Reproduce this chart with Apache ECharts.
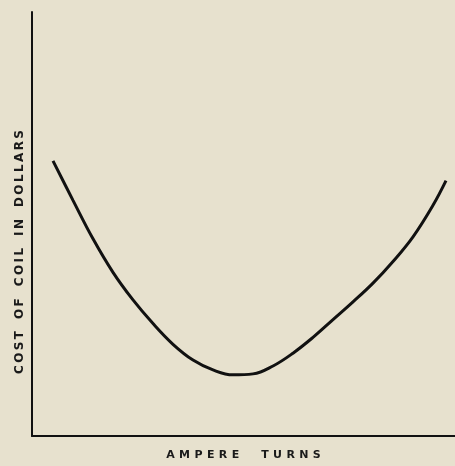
<!DOCTYPE html>
<html>
<head>
<meta charset="utf-8">
<script src="https://cdn.jsdelivr.net/npm/echarts@6/dist/echarts.min.js"></script>
<style>
html,body{margin:0;padding:0;background:#e7e1ce;}
#main{width:455px;height:466px;}
</style>
</head>
<body>
<div id="main"></div>
<script>
// curve (relative units, no scale printed)
var ampereTurns = [21, 41, 61, 81, 101, 121, 141, 161, 181, 201, 221, 241, 261, 281, 301, 321, 341, 361, 381, 401, 414];
var costOfCoil = [279, 239, 200, 166, 138, 114, 93, 77, 67, 62, 63, 71, 84, 100, 118, 136, 155, 177, 202, 234, 259];
var xTitle = 'AMPERE TURNS';
var yTitle = 'COST OF COIL IN DOLLARS';

// wide lettering like the printed figure
function spaced(s, gap){
	return s.split('').map(function(c){ return c == ' ' ? gap + gap + gap : c; }).join(gap);
}

var points = [];
for (var i = 0; i < ampereTurns.length; i++) {
	points.push([ampereTurns[i], costOfCoil[i]]);
}

var myChart = echarts.init(document.getElementById('main'));
var option = {
	backgroundColor: '#e7e1ce',
	animation: false,
	grid: {left: 32, right: 0, top: 12, bottom: 24},
	xAxis: {
		type: 'value', min: 0, max: 423,
		axisLine: {show: true, onZero: false, lineStyle: {color: '#111', width: 2}},
		axisTick: {show: false}, axisLabel: {show: false}, splitLine: {show: false},
		name: spaced(xTitle, '\u2009\u2009'), nameLocation: 'middle', nameGap: 14,
		nameTextStyle: {color: '#1a1a1a', fontSize: 11, fontWeight: 'bold', fontFamily: 'DejaVu Sans'}
	},
	yAxis: {
		type: 'value', min: 0, max: 430,
		axisLine: {show: true, onZero: false, lineStyle: {color: '#111', width: 2}},
		axisTick: {show: false}, axisLabel: {show: false}, splitLine: {show: false}
	},
	graphic: [{
		type: 'text', x: 20, y: 252, rotation: Math.PI / 2,
		style: {
			text: spaced(yTitle, '\u2009'), fill: '#1a1a1a', fontSize: 12, fontWeight: 'bold',
			fontFamily: 'DejaVu Sans', align: 'center', verticalAlign: 'middle'
		}
	}],
	series: [{
		type: 'line', data: points, smooth: 0.4, showSymbol: false,
		lineStyle: {color: '#111', width: 3}
	}]
};
myChart.setOption(option);
</script>
</body>
</html>
